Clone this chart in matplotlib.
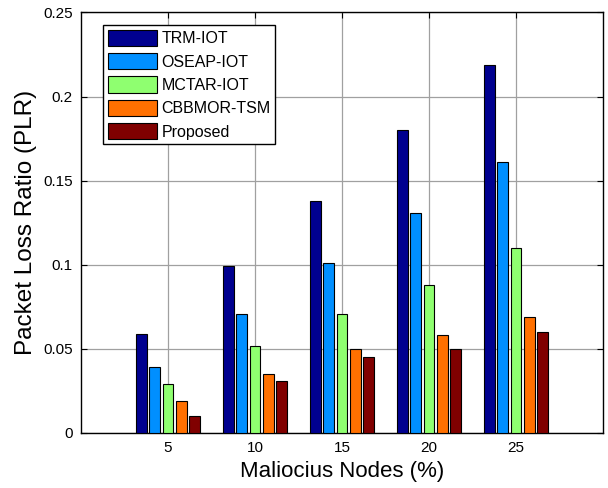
import matplotlib
matplotlib.use("Agg")
import matplotlib.pyplot as plt
import numpy as np
from matplotlib.ticker import FuncFormatter

plt.rcParams['font.family'] = ['Liberation Sans', 'DejaVu Sans']

categories = [5, 10, 15, 20, 25]
series_names = ['TRM-IOT', 'OSEAP-IOT', 'MCTAR-IOT', 'CBBMOR-TSM', 'Proposed']
trm = [0.059, 0.099, 0.138, 0.180, 0.219]
oseap = [0.039, 0.071, 0.101, 0.131, 0.161]
mctar = [0.029, 0.052, 0.071, 0.088, 0.110]
cbbmor = [0.019, 0.035, 0.050, 0.058, 0.069]
proposed = [0.010, 0.031, 0.045, 0.050, 0.060]
y_ticks = [0, 0.05, 0.1, 0.15, 0.2, 0.25]

colors = ['#00008F', '#008FFF', '#8FFF70', '#FF7000', '#800000']
series = [trm, oseap, mctar, cbbmor, proposed]

fig = plt.figure(figsize=(6.08, 4.88), dpi=100)
ax = fig.add_axes([81/608, 1 - 433/488, (603-81)/608, (433-12.5)/488])

x = np.array(categories, dtype=float)
spacing = 5.0
n = len(series)
groupwidth = min(0.8, n / (n + 1.5)) * spacing
slot = groupwidth / n
width = 0.8 * slot
for i, (vals, name, c) in enumerate(zip(series, series_names, colors)):
    off = -groupwidth / 2 + (i + 0.5) * slot
    ax.bar(x + off, vals, width=width, color=c, edgecolor='black',
           linewidth=0.8, label=name, zorder=3)

ax.set_xlim(0, 30)
ax.set_ylim(0, 0.25)
ax.set_xticks(categories)
ax.set_yticks(y_ticks)
ax.yaxis.set_major_formatter(FuncFormatter(lambda v, p: ('%g' % round(v, 4))))
ax.grid(True, color='#a0a0a0', linewidth=0.9, zorder=0)
ax.set_axisbelow(True)
ax.tick_params(direction='in', top=True, right=True, length=4, width=0.8,
               labelsize=11, colors='black', pad=6)
for s in ax.spines.values():
    s.set_linewidth(1.0)
    s.set_color('black')

ax.set_xlabel('Maliocius Nodes (%)', fontsize=16, labelpad=4)
ax.set_ylabel('Packet Loss Ratio (PLR)', fontsize=17.5, labelpad=4)

leg = ax.legend(loc='upper left', bbox_to_anchor=(22/522, 1 - 12.5/420.5),
                borderaxespad=0, fontsize=11.5, handlelength=3.1, handleheight=1.2,
                handletextpad=0.25, labelspacing=0.42, borderpad=0.3,
                fancybox=False, framealpha=1, edgecolor='black')
leg.get_frame().set_linewidth(1.0)

fig.savefig('out.png', dpi=100)
